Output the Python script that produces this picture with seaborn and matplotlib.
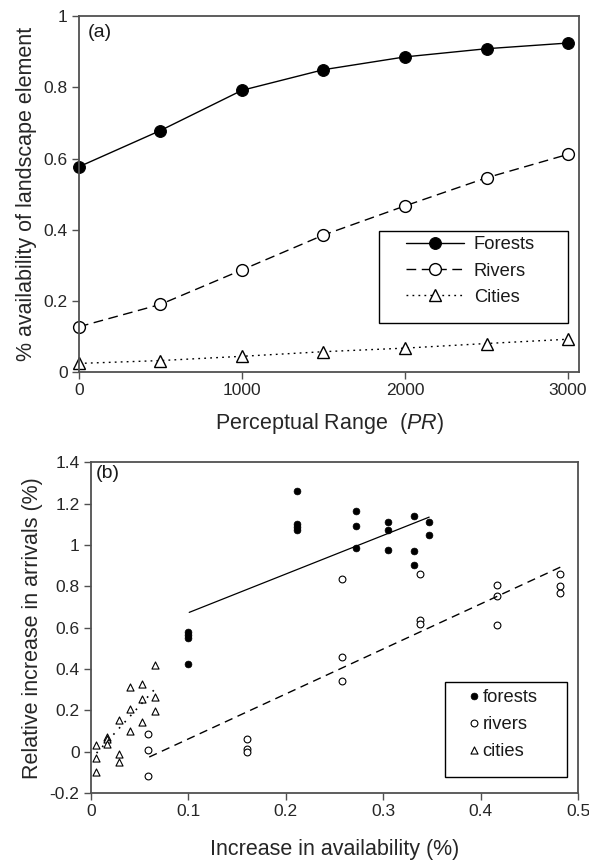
import numpy as np
import pandas as pd
import matplotlib
matplotlib.use('Agg')
import matplotlib.pyplot as plt
from matplotlib.patches import Rectangle
from matplotlib.ticker import FuncFormatter
import seaborn as sns

# panel (a): availability vs perceptual range
pr = [0, 500, 1000, 1500, 2000, 2500, 3000]
forests_avail = [0.577, 0.679, 0.792, 0.850, 0.886, 0.909, 0.925]
rivers_avail = [0.127, 0.190, 0.287, 0.385, 0.467, 0.546, 0.612]
cities_avail = [0.024, 0.032, 0.044, 0.057, 0.067, 0.080, 0.092]

# panel (b): increase in arrivals vs increase in availability
forests_x = [0.1, 0.1, 0.1, 0.1, 0.211, 0.211, 0.211, 0.211, 0.272, 0.272, 0.272,
             0.305, 0.305, 0.305, 0.331, 0.331, 0.331, 0.347, 0.347]
forests_y = [0.578, 0.565, 0.549, 0.425, 1.262, 1.100, 1.088, 1.072, 1.164, 1.094, 0.987,
             1.110, 1.075, 0.976, 1.142, 0.971, 0.905, 1.110, 1.049]
rivers_x = [0.059, 0.059, 0.059, 0.16, 0.16, 0.16, 0.258, 0.258, 0.258,
            0.3375, 0.3375, 0.3375, 0.417, 0.417, 0.417, 0.4815, 0.4815, 0.4815]
rivers_y = [0.084, 0.010, -0.118, 0.060, 0.015, -0.004, 0.836, 0.456, 0.340,
            0.859, 0.635, 0.619, 0.807, 0.754, 0.615, 0.859, 0.802, 0.767]
cities_x = [0.0055, 0.0055, 0.0055, 0.0172, 0.0172, 0.0172, 0.029, 0.029, 0.029,
            0.0398, 0.0398, 0.0398, 0.0526, 0.0526, 0.0526, 0.0657, 0.0657, 0.0657]
cities_y = [0.030, -0.032, -0.100, 0.072, 0.062, 0.035, 0.152, -0.013, -0.048,
            0.315, 0.208, 0.100, 0.328, 0.256, 0.145, 0.419, 0.264, 0.196]

# fitted lines (end points)
forests_fit_x = [0.101, 0.347]
forests_fit_y = [0.674, 1.135]
rivers_fit_x = [0.060, 0.482]
rivers_fit_y = [-0.026, 0.894]
cities_fit_x = [0.006, 0.065]
cities_fit_y = [-0.007, 0.299]

sns.set_style('ticks')
plt.rcParams['font.family'] = ['Liberation Sans', 'DejaVu Sans']
plt.rcParams['mathtext.fontset'] = 'custom'
plt.rcParams['mathtext.rm'] = 'Liberation Sans'
plt.rcParams['mathtext.it'] = 'Liberation Sans:italic'
plt.rcParams['text.color'] = '#1a1a1a'

spine_col = '#505050'
fmt = FuncFormatter(lambda v, p: '%g' % round(v, 3))

fig = plt.figure(figsize=(5.89, 8.61), dpi=100)
ax1 = fig.add_axes([0.134, 0.568, 0.849, 0.413])
ax2 = fig.add_axes([0.154, 0.079, 0.828, 0.384])

# ---- panel (a)
sns.lineplot(x=pr, y=forests_avail, ax=ax1, color='k', lw=1, linestyle='-',
             marker='o', markersize=8.5, markerfacecolor='k', markeredgecolor='k',
             label='Forests', clip_on=False)
sns.lineplot(x=pr, y=rivers_avail, ax=ax1, color='k', lw=1, linestyle=(0, (7, 4)),
             marker='o', markersize=8.5, markerfacecolor='white', markeredgecolor='k',
             markeredgewidth=1, label='Rivers', clip_on=False)
sns.lineplot(x=pr, y=cities_avail, ax=ax1, color='k', lw=1, linestyle=(0, (1.3, 3)),
             marker='^', markersize=8.5, markerfacecolor='white', markeredgecolor='k',
             markeredgewidth=1, label='Cities', clip_on=False)

ax1.set_xlim(0, 3067)
ax1.set_ylim(0, 1)
ax1.set_xticks([0, 1000, 2000, 3000])
ax1.set_yticks([0, 0.2, 0.4, 0.6, 0.8, 1.0])
ax1.yaxis.set_major_formatter(fmt)
ax1.set_xlabel(r'Perceptual Range  $\it{(PR)}$', fontsize=15.5, labelpad=9)
ax1.set_ylabel('% availability of landscape element', fontsize=15.5, labelpad=5)
ax1.text(0.018, 0.955, '(a)', transform=ax1.transAxes, fontsize=14, va='center')
ax1.legend(loc='upper left', bbox_to_anchor=(0.654, 0.381), borderaxespad=0,
           borderpad=0, fontsize=13.2, frameon=False, handlelength=3.15,
           labelspacing=0.5, handletextpad=0.55)
ax1.add_patch(Rectangle((0.60, 0.138), 0.378, 0.257, transform=ax1.transAxes,
                        fill=False, edgecolor='k', lw=1, zorder=5))

# ---- panel (b)
sns.scatterplot(x=forests_x, y=forests_y, ax=ax2, marker='o', s=24,
                facecolor='k', edgecolor='k', linewidth=0.5, label='forests')
sns.scatterplot(x=rivers_x, y=rivers_y, ax=ax2, marker='o', s=24,
                facecolor='white', edgecolor='k', linewidth=0.8, label='rivers')
sns.scatterplot(x=cities_x, y=cities_y, ax=ax2, marker='^', s=26,
                facecolor='white', edgecolor='k', linewidth=0.8, label='cities')

sns.lineplot(x=forests_fit_x, y=forests_fit_y, ax=ax2, color='k', lw=0.9, linestyle='-')
sns.lineplot(x=rivers_fit_x, y=rivers_fit_y, ax=ax2, color='k', lw=1, linestyle=(0, (6, 4)))
sns.lineplot(x=cities_fit_x, y=cities_fit_y, ax=ax2, color='k', lw=1.2, linestyle=(0, (1, 4)))

ax2.set_xlim(0, 0.5)
ax2.set_ylim(-0.2, 1.4)
ax2.set_xticks([0, 0.1, 0.2, 0.3, 0.4, 0.5])
ax2.set_yticks([-0.2, 0, 0.2, 0.4, 0.6, 0.8, 1.0, 1.2, 1.4])
ax2.xaxis.set_major_formatter(fmt)
ax2.yaxis.set_major_formatter(fmt)
ax2.set_xlabel('Increase in availability (%)', fontsize=15.5, labelpad=14)
ax2.set_ylabel('Relative increase in arrivals (%)', fontsize=15.5, labelpad=5)
ax2.text(0.01, 0.965, '(b)', transform=ax2.transAxes, fontsize=14, va='center')
ax2.legend(loc='upper left', bbox_to_anchor=(0.775, 0.314), borderaxespad=0,
           borderpad=0, fontsize=13.2, frameon=False, handlelength=0.6,
           labelspacing=0.55, handletextpad=0.15, scatteryoffsets=[0.5])
ax2.add_patch(Rectangle((0.7255, 0.047), 0.2505, 0.288, transform=ax2.transAxes,
                        fill=False, edgecolor='k', lw=1, zorder=5))

for ax in (ax1, ax2):
    for sp in ax.spines.values():
        sp.set_visible(True)
        sp.set_color(spine_col)
        sp.set_linewidth(1.3)
    ax.tick_params(axis='both', which='both', direction='out', length=5, width=1,
                   color=spine_col, labelsize=12.5, pad=3, top=False, right=False)

fig.savefig('out.png', dpi=100)
